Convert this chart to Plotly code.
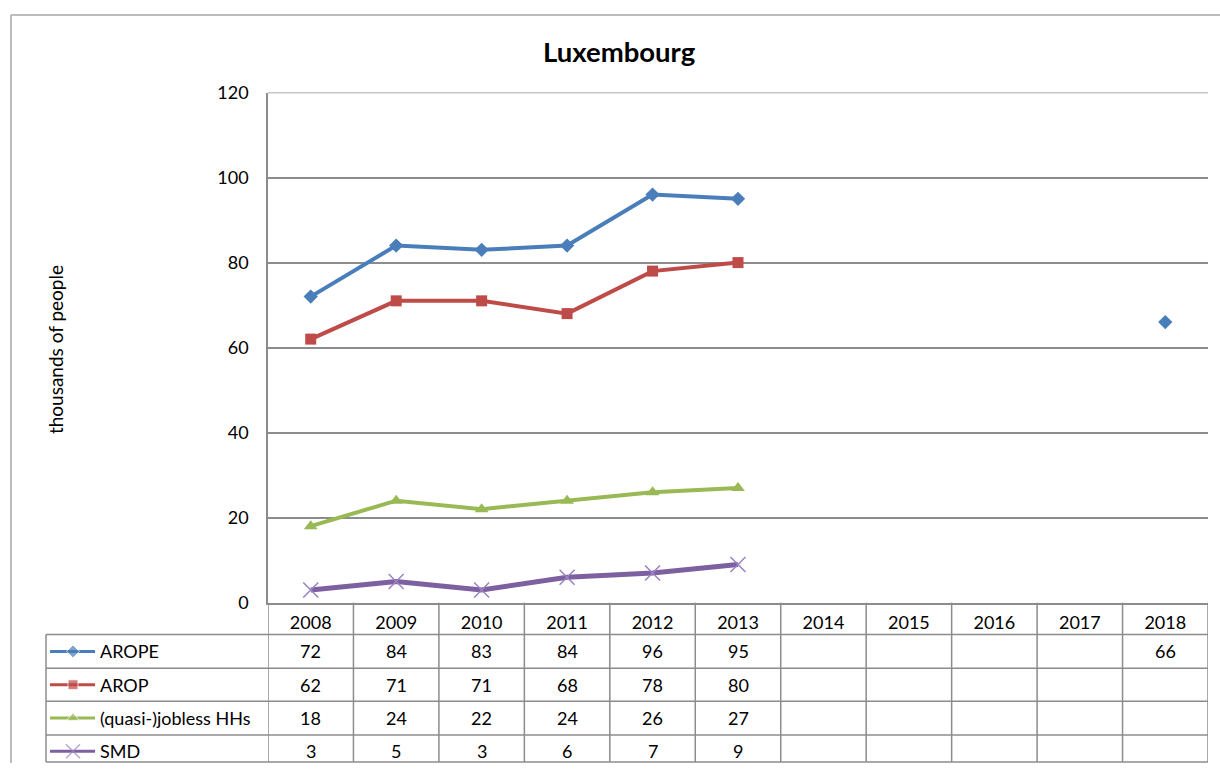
import plotly.graph_objects as go

# ---------------- data ----------------
years = [2008, 2009, 2010, 2011, 2012, 2013, 2014, 2015, 2016, 2017, 2018]
series_names = ["AROPE", "AROP", "(quasi-)jobless HHs", "SMD"]
arope = [72, 84, 83, 84, 96, 95, None, None, None, None, 66]
arop = [62, 71, 71, 68, 78, 80, None, None, None, None, None]
jobless = [18, 24, 22, 24, 26, 27, None, None, None, None, None]
smd = [3, 5, 3, 6, 7, 9, None, None, None, None, None]
y_ticks = [0, 20, 40, 60, 80, 100, 120]
title_text = "Luxembourg"
y_title = "thousands of people"

# ---------------- style ----------------
W, H = 1220, 773
FONT = "Lato"
GRID = "#8C8C8C"
colors = ["#4A7EBB", "#BE4B48", "#98B954", "#7D60A0"]
mcolors = ["#4A7EBB", "#BE4B48", "#98B954", "#9A82C2"]
symbols = ["diamond", "square", "triangle-up", "x-thin"]
msizes = [11, 11, 12, 15]
lwidths = [4, 4, 4, 5]
values = [arope, arop, jobless, smd]
TXT = 18

# target pixel layout
PL, PR, PT, PB = 268, 1208, 90, 603          # plot area
TL = 46                                         # table left edge
row_lines = [635, 669, 702, 736, 769]           # table horizontal lines

# vertical calibration of the capture (observed = S * design + OFF)
S, OFF = 0.977, 9.0


def fx(x):
    return x / W


def fy(y):
    yd = min((y - OFF) / S, H - 1)
    return 1 - yd / H


fig = go.Figure()

for name, vals, c, mc, s, ms, lw in zip(series_names, values, colors, mcolors, symbols, msizes, lwidths):
    marker = dict(symbol=s, size=ms, color=mc)
    if s == "x-thin":
        marker["line"] = dict(color=mc, width=1.5)
    fig.add_trace(go.Scatter(
        x=years, y=vals, name=name, mode="lines+markers",
        line=dict(color=c, width=lw), marker=marker,
        connectgaps=False, showlegend=False, xaxis="x", yaxis="y",
    ))

# legend keys inside the data table (pixel-space helper axes)
row_centers = [(row_lines[i] + row_lines[i + 1]) / 2 for i in range(4)]
for i, (c, mc, s, ms) in enumerate(zip(colors, mcolors, symbols, msizes)):
    marker = dict(symbol=s, size=[0, ms - 1, 0], color=mc)
    if s == "x-thin":
        marker["line"] = dict(color=mc, width=1.5)
    fig.add_trace(go.Scatter(
        x=[50, 73, 95], y=[1 - fy(row_centers[i])] * 3, mode="lines+markers",
        line=dict(color=c, width=3), marker=marker,
        showlegend=False, hoverinfo="skip", xaxis="x2", yaxis="y2",
    ))

shapes = []
# outer chart border (left + top)
shapes.append(dict(type="line", xref="paper", yref="paper", x0=fx(11), x1=fx(11),
                   y0=fy(12), y1=0, line=dict(color="#A6A6A6", width=1.5)))
shapes.append(dict(type="line", xref="paper", yref="paper", x0=fx(11), x1=1,
                   y0=fy(12), y1=fy(12), line=dict(color="#A6A6A6", width=1.5)))
# top gridline at the axis maximum
shapes.append(dict(type="line", xref="paper", yref="y", x0=fx(PL), x1=fx(PR),
                   y0=y_ticks[-1], y1=y_ticks[-1], line=dict(color=GRID, width=1.5)))
# table vertical lines on year boundaries
for k in range(len(years) + 1):
    xb = years[0] - 0.5 + k
    shapes.append(dict(type="line", xref="x", yref="paper", x0=xb, x1=xb,
                       y0=fy(PB), y1=fy(row_lines[-1]), line=dict(color=GRID, width=1.5)))
shapes.append(dict(type="line", xref="paper", yref="paper", x0=fx(TL), x1=fx(TL),
                   y0=fy(row_lines[0]), y1=fy(row_lines[-1]), line=dict(color=GRID, width=1.5)))
for yl in row_lines:
    shapes.append(dict(type="line", xref="paper", yref="paper", x0=fx(TL), x1=fx(PR),
                       y0=fy(yl), y1=fy(yl), line=dict(color=GRID, width=1.5)))

annotations = []
for i, (name, vals) in enumerate(zip(series_names, values)):
    annotations.append(dict(text=name, xref="paper", yref="paper", x=fx(98), y=fy(row_centers[i]),
                            xanchor="left", yanchor="middle", showarrow=False,
                            font=dict(family=FONT, size=TXT, color="#000")))
    for yr, v in zip(years, vals):
        if v is not None:
            annotations.append(dict(text=str(v), xref="x", yref="paper", x=yr, y=fy(row_centers[i]),
                                    xanchor="center", yanchor="middle", showarrow=False,
                                    font=dict(family=FONT, size=TXT, color="#000")))
annotations.append(dict(text=title_text, xref="paper", yref="paper", x=fx(619), y=fy(49),
                        xanchor="center", yanchor="middle", showarrow=False,
                        font=dict(family=FONT, size=27.5, color="#000", weight="bold")))
annotations.append(dict(text=y_title, xref="paper", yref="paper", x=fx(55), y=fy(349),
                        xanchor="center", yanchor="middle", showarrow=False, textangle=-90,
                        font=dict(family=FONT, size=19, color="#000")))

fig.update_layout(
    width=W, height=H, autosize=False,
    margin=dict(l=0, r=0, t=0, b=0),
    paper_bgcolor="white", plot_bgcolor="rgba(0,0,0,0)",
    font=dict(family=FONT, size=TXT, color="#000"),
    xaxis=dict(domain=[fx(PL), fx(PR)], range=[years[0] - 0.5, years[-1] + 0.5],
               tickvals=years, ticktext=[str(y) for y in years], showgrid=False,
               showline=True, linecolor=GRID, linewidth=1.5, ticks="",
               ticklabelstandoff=3, tickfont=dict(family=FONT, size=TXT, color="#000"),
               zeroline=False, fixedrange=True, anchor="y"),
    yaxis=dict(domain=[fy(PB), fy(PT)], range=[0, 120], tickvals=y_ticks,
               showgrid=True, gridcolor=GRID, gridwidth=1.5,
               showline=True, linecolor=GRID, linewidth=1.5, ticks="",
               ticklabelstandoff=14, tickfont=dict(family=FONT, size=TXT, color="#000"),
               zeroline=False, fixedrange=True, anchor="x"),
    xaxis2=dict(domain=[0, 1], range=[0, W], visible=False, fixedrange=True, anchor="y2"),
    yaxis2=dict(domain=[0, 1], range=[1, 0], visible=False, fixedrange=True, anchor="x2"),
    shapes=shapes, annotations=annotations, showlegend=False,
)

post = (
    "var gd=document.getElementById('{plot_id}');"
    "document.documentElement.style.margin='0';"
    "document.body.style.margin='0';"
)
fig.write_html("out.html", config={"displayModeBar": False}, post_script=post)
